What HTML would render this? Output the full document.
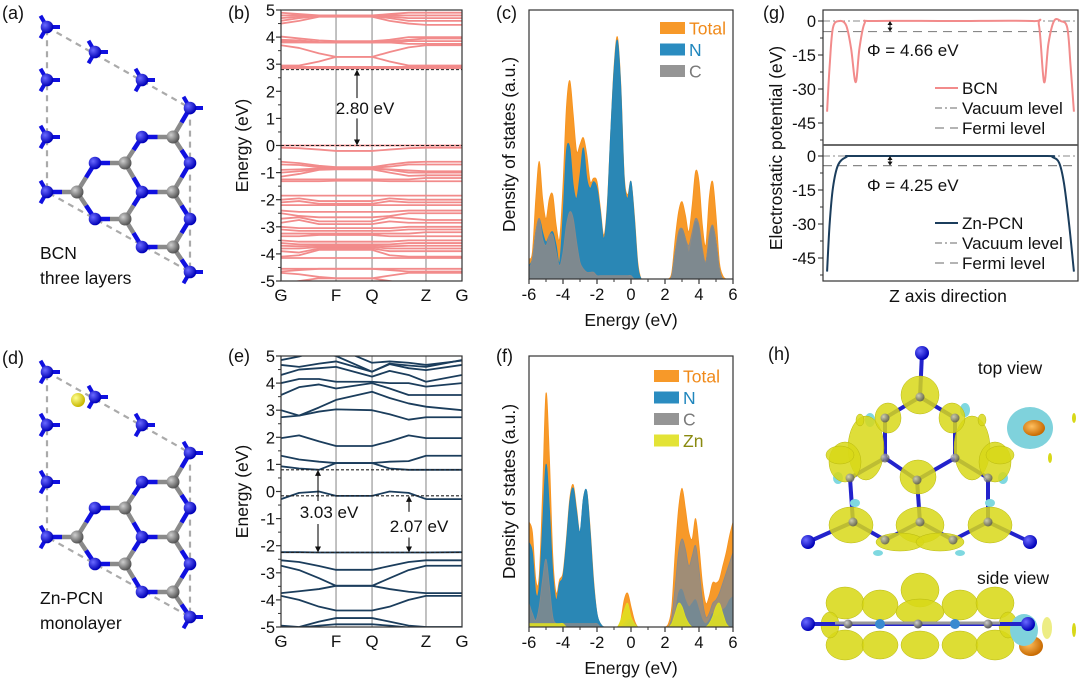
<!DOCTYPE html>
<html><head><meta charset="utf-8">
<style>
body{margin:0;background:#fff;}
svg{display:block;font-family:"Liberation Sans",Arial,sans-serif;}
</style></head>
<body>
<svg id="fig" width="1080" height="682" viewBox="0 0 1080 682" xmlns="http://www.w3.org/2000/svg">
<defs>
<radialGradient id="gN" cx="35%" cy="35%" r="65%"><stop offset="0" stop-color="#6a6aff"/><stop offset="1" stop-color="#0000b8"/></radialGradient>
<radialGradient id="gC" cx="35%" cy="35%" r="65%"><stop offset="0" stop-color="#cfcfcf"/><stop offset="1" stop-color="#555"/></radialGradient>
<radialGradient id="gZn" cx="35%" cy="35%" r="65%"><stop offset="0" stop-color="#ffff90"/><stop offset="1" stop-color="#c8b800"/></radialGradient>
<radialGradient id="gO" cx="40%" cy="40%" r="60%"><stop offset="0" stop-color="#ffc060"/><stop offset="1" stop-color="#c86a00"/></radialGradient>
<clipPath id="clipB"><rect x="281" y="10" width="181" height="271"/></clipPath>
<clipPath id="clipE"><rect x="281" y="356" width="181" height="271"/></clipPath>
<clipPath id="clipC"><rect x="529" y="10" width="204" height="269"/></clipPath>
<clipPath id="clipF"><rect x="529" y="356" width="204" height="271"/></clipPath>
</defs>
</svg>
<script>
// ---------- DATA ----------
const BAND_K = [0, 0.1, 0.21, 0.304, 0.503, 0.6, 0.705, 0.801, 1];
const KPOINT_LABELS = ['G', 'F', 'Q', 'Z', 'G'];
const KPOINT_POS = [0, 0.304, 0.503, 0.801, 1];
const ENERGY_TICKS = [5, 4, 3, 2, 1, 0, -1, -2, -3, -4, -5];
const BCN_BANDS = [
 [4.9,4.85,4.8,4.8,4.8,4.85,4.9,4.9,4.9],[4.8,4.8,4.8,4.8,4.8,4.8,4.8,4.8,4.8],
 [4.7,4.75,4.8,4.8,4.8,4.75,4.7,4.7,4.7],[4.6,4.7,4.78,4.78,4.78,4.7,4.6,4.6,4.6],
 [4.5,4.6,4.75,4.75,4.75,4.6,4.5,4.45,4.45],[4.02,3.95,3.88,3.85,3.85,3.9,4.0,4.0,4.0],
 [3.9,3.88,3.82,3.8,3.8,3.85,3.9,3.95,3.95],[3.85,3.82,3.8,3.8,3.8,3.8,3.85,3.85,3.85],
 [3.8,3.8,3.8,3.8,3.8,3.8,3.75,3.75,3.75],[3.7,3.6,3.4,3.27,3.27,3.45,3.62,3.7,3.7],
 [2.95,2.95,3.1,3.27,3.27,3.1,2.95,2.95,2.95],[2.9,2.9,2.9,2.9,2.9,2.9,2.9,2.9,2.9],
 [2.85,2.85,2.85,2.85,2.85,2.85,2.85,2.85,2.85],
 [0,0,0,0,0,0,0,0,0],[-0.08,-0.1,-0.15,-0.2,-0.2,-0.15,-0.1,-0.08,-0.08],
 [-0.6,-0.65,-0.75,-0.8,-0.8,-0.7,-0.62,-0.6,-0.6],[-0.7,-0.72,-0.8,-0.82,-0.82,-0.78,-0.7,-0.7,-0.7],
 [-0.9,-0.88,-0.85,-0.85,-0.85,-0.88,-0.92,-0.95,-0.95],[-1.0,-0.95,-0.88,-0.85,-0.85,-0.9,-1.0,-1.0,-1.0],
 [-1.15,-1.05,-0.9,-0.88,-0.88,-1.0,-1.12,-1.1,-1.1],[-1.25,-1.25,-1.25,-1.25,-1.25,-1.25,-1.25,-1.2,-1.2],
 [-1.32,-1.32,-1.32,-1.3,-1.3,-1.32,-1.32,-1.32,-1.32],[-1.85,-1.85,-1.85,-1.85,-1.85,-1.85,-1.85,-1.85,-1.85],
 [-2.0,-1.95,-2.05,-2.05,-2.05,-1.95,-2.0,-2.0,-2.0],[-2.1,-2.05,-2.15,-2.15,-2.15,-2.05,-2.1,-2.1,-2.1],
 [-2.2,-2.2,-2.2,-2.2,-2.2,-2.2,-2.2,-2.2,-2.2],[-2.4,-2.45,-2.45,-2.45,-2.45,-2.45,-2.4,-2.4,-2.4],
 [-2.5,-2.6,-2.65,-2.65,-2.65,-2.6,-2.5,-2.5,-2.5],[-2.7,-2.65,-2.8,-2.8,-2.8,-2.65,-2.7,-2.75,-2.75],
 [-2.85,-2.75,-2.9,-2.9,-2.9,-2.8,-2.85,-2.85,-2.85],[-3.0,-3.05,-3.05,-3.05,-3.05,-3.05,-3.0,-3.0,-3.0],
 [-3.1,-3.15,-3.15,-3.15,-3.15,-3.15,-3.1,-3.1,-3.1],[-3.25,-3.25,-3.25,-3.25,-3.25,-3.25,-3.25,-3.2,-3.2],
 [-3.35,-3.35,-3.3,-3.3,-3.3,-3.35,-3.35,-3.35,-3.35],[-3.5,-3.55,-3.55,-3.55,-3.55,-3.55,-3.5,-3.5,-3.5],
 [-3.6,-3.65,-3.65,-3.65,-3.65,-3.65,-3.6,-3.6,-3.6],[-3.7,-3.72,-3.7,-3.7,-3.7,-3.72,-3.7,-3.7,-3.7],
 [-3.8,-3.8,-3.75,-3.75,-3.75,-3.8,-3.8,-3.8,-3.8],[-3.9,-3.95,-3.8,-3.8,-3.8,-3.9,-3.9,-3.9,-3.9],
 [-4.1,-4.05,-3.85,-3.85,-3.85,-4.05,-4.1,-4.1,-4.1],[-4.15,-4.15,-4.15,-4.15,-4.15,-4.15,-4.15,-4.15,-4.15],
 [-4.55,-4.55,-4.55,-4.55,-4.55,-4.55,-4.55,-4.55,-4.55],[-4.65,-4.6,-4.55,-4.55,-4.55,-4.6,-4.65,-4.65,-4.65],
 [-4.7,-4.75,-4.85,-4.9,-4.9,-4.8,-4.7,-4.7,-4.7],[-5.1,-5.0,-4.9,-4.9,-4.9,-5.0,-5.1,-5.1,-5.1]
];
const ZNPCN_BANDS = [
 [4.85,4.98,5.2,5.3,4.75,4.8,4.75,4.67,4.83],
 [5.3,5.2,5.1,5.0,4.42,4.72,4.65,4.6,4.85],
 [4.67,4.6,4.72,4.8,4.42,4.7,4.55,4.48,4.67],
 [4.3,4.5,4.55,4.6,4.24,4.45,4.3,4.05,4.3],
 [4.0,4.15,4.15,4.05,4.05,4.0,4.0,3.87,4.0],
 [3.56,3.85,3.95,3.8,4.0,3.8,3.56,3.56,3.56],
 [3.0,2.8,3.1,3.38,3.68,3.45,3.25,3.13,3.0],
 [2.74,2.8,2.95,3.03,3.0,2.85,2.65,2.74,2.74],
 [1.97,2.07,1.85,1.68,1.68,1.85,2.07,1.97,1.97],
 [1.32,1.18,1.1,1.05,1.05,1.1,1.12,1.32,1.32],
 [0.93,0.85,0.8,1.05,1.05,0.85,0.8,0.8,0.8],
 [-0.28,-0.05,0.0,-0.16,-0.16,0.0,-0.05,-0.28,-0.28],
 [-2.24,-2.24,-2.25,-2.25,-2.25,-2.25,-2.25,-2.25,-2.24],
 [-2.54,-2.6,-2.75,-2.89,-2.89,-2.75,-2.6,-2.54,-2.54],
 [-2.74,-2.9,-3.2,-3.48,-3.48,-3.2,-2.9,-2.74,-2.74],
 [-3.75,-3.68,-3.6,-3.48,-3.48,-3.6,-3.7,-3.75,-3.75],
 [-3.85,-4.0,-4.25,-4.39,-4.39,-4.25,-4.0,-3.85,-3.85],
 [-4.95,-5.0,-4.8,-4.67,-4.67,-4.8,-4.95,-5.0,-5.0],
 [-5.05,-5.02,-4.95,-4.9,-4.9,-4.95,-5.02,-5.05,-5.05]
];
const DOS_ENERGY_TICKS = [-6, -4, -2, 0, 2, 4, 6];
const DOS_C_TOTAL = [6,8,24,35,24,18,24,25,16,12, 28,51,59,49,38,40,42,37,29,30, 29,21,13,22,43,63,72,58,31,25, 29,19,5, 0,0,0,0,0,0,0,0,0, 2,12,20,23,19,14,22,32,29,16, 10,24,29,19,5,1,0,0,0];
const DOS_C_N = [4,6,14,18,14,11,13,14,10,5, 19,38,39,28,24,31,39,30,27,29, 27,20,12,21,43,62,71,57,30,24, 29,18,4, 0,0,0,0,0,0,0,0,0, 1,8,13,15,12,8,12,17,15,8, 5,12,16,11,3,0,0,0,0];
const DOS_C_C = [3,6,14,18,12,10,13,13,8,4, 8,16,20,18,11,5,3,2,2,2, 1,1,1,1,1,1,1,1,1,1, 1,0,0, 0,0,0,0,0,0,0,0,0, 1,8,14,15,12,10,14,18,16,9, 5,13,16,11,3,0,0,0,0];
const DOS_F_TOTAL = [31,28,14,15,40,69,50,21,10,14, 16,26,38,42,35,28,38,40,29,14, 4,1,0,0,0,0,0,2,8,10, 6,2,0, 0,0,0,0,0,0,0,0,1, 6,22,35,41,35,28,26,32,24,13, 7,9,13,13,14,18,22,27,31];
const DOS_F_N = [25,22,10,12,30,48,35,16,8,13, 15,25,37,41,34,28,38,40,28,13, 4,1,0,0,0,0,0,0,0,1, 2,1,0, 0,0,0,0,0,0,0,0,0, 1,4,10,11,8,6,7,8,5,2, 1,2,4,3,4,5,6,8,9];
const DOS_F_C = [7,4,2,6,14,20,12,3,1,1, 1,1,1,1,1,1,1,1,1,1, 1,0,0,0,0,0,0,0,1,2, 2,1,0, 0,0,0,0,0,0,0,0,0, 3,12,22,26,23,18,21,24,17,8, 3,4,7,8,10,13,16,19,22];
const DOS_F_ZN = [1,1,1,1,1,1,1,1,1,1, 1,0,0,0,0,0,0,0,0,0, 0,0,0,0,0,0,0,2,5,7, 3,1,0, 0,0,0,0,0,0,0,0,0, 1,4,7,6,3,1,0,0,0,0, 0,1,3,6,7,4,1,0,0];
const POT_TICKS = [0, -15, -30, -45];
const POT_Z_BCN = [0.016,0.026,0.039,0.065,0.091,0.11,0.128,0.143,0.163,0.196,0.5,0.82,0.847,0.867,0.884,0.906,0.932,0.958,0.971,0.984];
const POT_BCN = [-40,-20,-3,0,-2,-12,-27,-12,-1,0,0,0,-2,-27,-10,0,0,-3,-20,-40];
const POT_Z_ZN = [0.016,0.026,0.039,0.059,0.091,0.13,0.5,0.87,0.9,0.926,0.945,0.965,0.984];
const POT_ZN = [-51,-30,-14,-4,-0.5,0,0,0,-0.5,-3,-12,-30,-51];
const FERMI_BCN = -4.66;
const FERMI_ZN = -4.25;

// ---------- HELPERS ----------
const NS = 'http://www.w3.org/2000/svg';
const svg = document.getElementById('fig');
const TICK_FS = 16.5, TITLE_FS = 17.5;
function mk(tag, attrs, parent) {
  const e = document.createElementNS(NS, tag);
  for (const k in attrs) e.setAttribute(k, attrs[k]);
  (parent || svg).appendChild(e);
  return e;
}
function txt(x, y, s, size, anchor, fill, parent) {
  const t = mk('text', {x: x, y: y, 'font-size': size, 'text-anchor': anchor || 'start', fill: fill || '#111'}, parent);
  t.textContent = s;
  return t;
}
function smooth(pts) {
  let d = 'M' + pts[0][0].toFixed(2) + ',' + pts[0][1].toFixed(2);
  for (let i = 0; i < pts.length - 1; i++) {
    const p0 = pts[i - 1] || pts[i], p1 = pts[i], p2 = pts[i + 1], p3 = pts[i + 2] || p2;
    const c1x = p1[0] + (p2[0] - p0[0]) / 6, c1y = p1[1] + (p2[1] - p0[1]) / 6;
    const c2x = p2[0] - (p3[0] - p1[0]) / 6, c2y = p2[1] - (p3[1] - p1[1]) / 6;
    d += 'C' + c1x.toFixed(2) + ',' + c1y.toFixed(2) + ' ' + c2x.toFixed(2) + ',' + c2y.toFixed(2) + ' ' + p2[0].toFixed(2) + ',' + p2[1].toFixed(2);
  }
  return d;
}
const ENERGY_GRID = [];
for (let i = 0; i <= 60; i++) ENERGY_GRID.push(-6 + i * 0.2);

// ---------- PANEL LABELS ----------
[['(a)',2,19],['(b)',228,19],['(c)',496,19],['(g)',763,19],['(d)',2,364],['(e)',228,362],['(f)',496,362],['(h)',768,360]].forEach(function(p){
  const t = txt(p[1], p[2], p[0], 18);
  
  
});

// ---------- STRUCTURES (a)/(d) ----------
function drawStructure(dy, withZn, name) {
  const g = mk('g', {});
  
  
  const N = [[47,27],[95,52],[142,80],[190,108],[47,80],[47,137],[47,192],[190,272],[95,163],[95,219],[142,137],[142,192],[142,247],[190,163],[190,219]];
  const C = [[77,192],[125,163],[125,219],[173,137],[173,192],[173,247]];
  const stubs = {0:[240,120,0],1:[240,120,0],2:[240,120,0],3:[240,0],4:[240,120,0],5:[240,120,0],6:[240,120],7:[0,120]};
  const cell = mk('polyline', {points: '47,'+(27+dy)+' 190,'+(108+dy)+' 190,'+(272+dy)+' 47,'+(192+dy)+' 47,'+(27+dy), fill:'none', stroke:'#aaa', 'stroke-width':2.2, 'stroke-dasharray':'6,5'}, g);
  
  
  for (const k in stubs) {
    stubs[k].forEach(function(a){
      const p = N[k], r = a * Math.PI / 180;
      mk('line', {x1:p[0], y1:p[1]+dy, x2:p[0]+13*Math.cos(r), y2:p[1]+dy+13*Math.sin(r), stroke:'#1010e0', 'stroke-width':4}, g);
    });
  }
  C.forEach(function(c){
    N.forEach(function(n){
      const d = Math.hypot(c[0]-n[0], c[1]-n[1]);
      if (d < 37) {
        const mx = (c[0]+n[0])/2, my = (c[1]+n[1])/2;
        mk('line', {x1:c[0], y1:c[1]+dy, x2:mx, y2:my+dy, stroke:'#8a8a8a', 'stroke-width':4.5}, g);
        mk('line', {x1:mx, y1:my+dy, x2:n[0], y2:n[1]+dy, stroke:'#1010e0', 'stroke-width':4.5}, g);
      }
    });
  });
  N.forEach(function(p){ mk('circle', {cx:p[0], cy:p[1]+dy, r:6.3, fill:'url(#gN)'}, g); });
  C.forEach(function(p){ mk('circle', {cx:p[0], cy:p[1]+dy, r:6.5, fill:'url(#gC)'}, g); });
  if (withZn) {
    const zn = mk('circle', {cx:78, cy:400, r:7, fill:'url(#gZn)'}, g);
    
    
  }
}
drawStructure(0, false, 'bcn-structure');
drawStructure(345, true, 'znpcn-structure');
[['BCN',40,259,'bcn-caption'],['three layers',40,284,'bcn-caption-2'],['Zn-PCN',40,604,'znpcn-caption'],['monolayer',40,629,'znpcn-caption-2']].forEach(function(c){
  const t = txt(c[1], c[2], c[0], 17.5);
  
  
});

// ---------- BAND PANELS ----------
function bandPanel(x0, x1, y0, y1, bands, color, clipId, name) {
  const g = mk('g', {});
  
  
  const X = function(k){ return x0 + k * (x1 - x0); };
  const Y = function(e){ return y0 + (5 - e) / 10 * (y1 - y0); };
  KPOINT_POS.slice(1, 4).forEach(function(k){
    const l = mk('line', {x1:X(k), y1:y0, x2:X(k), y2:y1, stroke:'#a0a0a0', 'stroke-width':1.3}, g);
    
    
  });
  const bg = mk('g', {'clip-path': 'url(#' + clipId + ')'}, g);
  bands.forEach(function(b, i){
    const pts = b.map(function(e, j){ return X(BAND_K[j]).toFixed(2) + ',' + Y(e).toFixed(2); }).join(' ');
    const pl = mk('polyline', {points: pts, fill:'none', stroke:color, 'stroke-width':1.8, 'stroke-linejoin':'round'}, bg);
    
    
  });
  const fr = mk('rect', {x:x0, y:y0, width:x1-x0, height:y1-y0, fill:'none', stroke:'#333', 'stroke-width':1.2}, g);
  
  
  ENERGY_TICKS.forEach(function(e){
    mk('line', {x1:x0-5, y1:Y(e), x2:x0, y2:Y(e), stroke:'#333', 'stroke-width':1.2}, g);
    mk('line', {x1:x0-3, y1:Y(e-0.5), x2:x0, y2:Y(e-0.5), stroke:'#333', 'stroke-width':1}, g);
    const t = txt(x0-6, Y(e)+6, String(e), TICK_FS, 'end', '#111', g);
    
    
  });
  KPOINT_LABELS.forEach(function(s, i){
    const t = txt(X(KPOINT_POS[i]), y1+20, s, TICK_FS+0.5, 'middle', '#111', g);
    
    
  });
  const yt = txt(0, 0, 'Energy (eV)', TITLE_FS, 'middle', '#111', g);
  yt.setAttribute('transform', 'translate(248,' + ((y0+y1)/2) + ') rotate(-90)');
  
  
  return {g:g, X:X, Y:Y};
}
function dashH(p, e, name) {
  const l = mk('line', {x1:281, y1:p.Y(e), x2:462, y2:p.Y(e), stroke:'#222', 'stroke-width':1.1, 'stroke-dasharray':'3,2'}, p.g);
  
  
}
function arrow(p, x, eFrom, eTo, name) {
  const ya = p.Y(eFrom), yb = p.Y(eTo), dir = yb > ya ? 1 : -1;
  const l = mk('line', {x1:x, y1:ya, x2:x, y2:yb - dir*5, stroke:'#111', 'stroke-width':1.1}, p.g);
  
  
  mk('polygon', {points: (x-3)+','+(yb-dir*6)+' '+(x+3)+','+(yb-dir*6)+' '+x+','+yb, fill:'#111'}, p.g);
}
const pb = bandPanel(281, 462, 10, 281, BCN_BANDS, '#f28b8b', 'clipB', 'bcn-band-structure');
dashH(pb, 2.8, 'cbm-line');
dashH(pb, 0, 'vbm-line');
arrow(pb, 357, 1.75, 2.8, 'gap-arrow-up');
arrow(pb, 357, 1.0, 0, 'gap-arrow-down');
let t1 = txt(365, 114, '2.80 eV', 17, 'middle', '#111', pb.g);



const pe = bandPanel(281, 462, 356, 627, ZNPCN_BANDS, '#1b3d5c', 'clipE', 'znpcn-band-structure');
dashH(pe, 0.8, 'cbm-line');
dashH(pe, -0.16, 'zn-level-line');
dashH(pe, -2.25, 'vbm-line');
arrow(pe, 318, -0.35, 0.8, 'gap-arrow-up');
arrow(pe, 318, -1.2, -2.25, 'gap-arrow-down');
arrow(pe, 409, -0.75, -0.16, 'gap2-arrow-up');
arrow(pe, 409, -1.7, -2.25, 'gap2-arrow-down');
t1 = txt(329, 518, '3.03 eV', 17, 'middle', '#111', pe.g);


t1 = txt(419, 532, '2.07 eV', 17, 'middle', '#111', pe.g);



// ---------- DOS PANELS ----------
function dosPanel(y0, y1, series, clipId, name, legendY) {
  const x0 = 529, x1 = 733;
  const g = mk('g', {});
  
  
  const X = function(e){ return x0 + (e + 6) / 12 * (x1 - x0); };
  const Y = function(v){ return y1 - v / 80 * (y1 - y0); };
  const cg = mk('g', {'clip-path':'url(#' + clipId + ')'}, g);
  series.forEach(function(s){
    const pts = s.values.map(function(v, i){ return [X(ENERGY_GRID[i]), Y(v)]; });
    const d = smooth(pts) + 'L' + X(6) + ',' + Y(0) + 'L' + X(-6) + ',' + Y(0) + 'Z';
    const p = mk('path', {d:d, fill:s.color, 'fill-opacity':s.op, stroke:s.color, 'stroke-width':0.8}, cg);
    
    
  });
  const fr = mk('rect', {x:x0, y:y0, width:x1-x0, height:y1-y0, fill:'none', stroke:'#333', 'stroke-width':1.2}, g);
  
  
  DOS_ENERGY_TICKS.forEach(function(e){
    mk('line', {x1:X(e), y1:y1, x2:X(e), y2:y1+5, stroke:'#333', 'stroke-width':1.2}, g);
    if (e < 6) mk('line', {x1:X(e+1), y1:y1, x2:X(e+1), y2:y1+3, stroke:'#333', 'stroke-width':1}, g);
    const t = txt(X(e), y1+21, String(e), TICK_FS, 'middle', '#111', g);
    
    
  });
  const xt = txt(631, y1+47, 'Energy (eV)', TITLE_FS, 'middle', '#111', g);
  
  
  const yt = txt(0, 0, 'Density of states (a.u.)', TITLE_FS, 'middle', '#111', g);
  yt.setAttribute('transform', 'translate(515,' + ((y0+y1)/2) + ') rotate(-90)');
  
  
  series.forEach(function(s, i){
    const ly = legendY + i * 21.5;
    const r = mk('rect', {x:legendY > 300 ? 654 : 660, y:ly-6, width:25, height:12, fill:s.color, 'fill-opacity':Math.max(s.op,0.9)}, g);
    
    
    const t = txt(legendY > 300 ? 683 : 689, ly+6.5, s.label, 17.5, 'start', s.tcolor, g);
    
    
  });
}
dosPanel(10, 279, [
  {key:'total', label:'Total', values:DOS_C_TOTAL, color:'#f7931e', op:0.95, tcolor:'#f08a1a'},
  {key:'n', label:'N', values:DOS_C_N, color:'#1f86bd', op:0.95, tcolor:'#1f86bd'},
  {key:'c', label:'C', values:DOS_C_C, color:'#8a8a8a', op:0.88, tcolor:'#7a7a7a'}
], 'clipC', 'bcn-dos', 28);
dosPanel(356, 627, [
  {key:'total', label:'Total', values:DOS_F_TOTAL, color:'#f7931e', op:0.95, tcolor:'#f08a1a'},
  {key:'n', label:'N', values:DOS_F_N, color:'#1f86bd', op:0.95, tcolor:'#1f86bd'},
  {key:'c', label:'C', values:DOS_F_C, color:'#8a8a8a', op:0.8, tcolor:'#7a7a7a'},
  {key:'zn', label:'Zn', values:DOS_F_ZN, color:'#e0e020', op:0.9, tcolor:'#8a8a10'}
], 'clipF', 'znpcn-dos', 376);

// ---------- POTENTIAL PANEL (g) ----------
(function(){
  const x0 = 823, x1 = 1078;
  const g = mk('g', {});
  
  
  const X = function(z){ return x0 + z * (x1 - x0); };
  const sub = [
    {zero:21, top:10, bot:145, zs:POT_Z_BCN, vs:POT_BCN, fermi:FERMI_BCN, color:'#f28b8b', label:'BCN', phi:'Φ = 4.66 eV', key:'bcn', ly:88},
    {zero:156, top:145, bot:281, zs:POT_Z_ZN, vs:POT_ZN, fermi:FERMI_ZN, color:'#1b3d5c', label:'Zn-PCN', phi:'Φ = 4.25 eV', key:'znpcn', ly:223}
  ];
  const k = 34 / 15;
  sub.forEach(function(s){
    const Y = function(v){ return s.zero - v * k; };
    const vac = mk('line', {x1:x0, y1:Y(0), x2:x1, y2:Y(0), stroke:'#888', 'stroke-width':1.1, 'stroke-dasharray':'7,3,2,3'}, g);
    
    
    const fe = mk('line', {x1:x0, y1:Y(s.fermi), x2:x1, y2:Y(s.fermi), stroke:'#888', 'stroke-width':1.2, 'stroke-dasharray':'9,6'}, g);
    
    
    const pts = s.zs.map(function(z, i){ return [X(z), Y(s.vs[i])]; });
    const p = mk('path', {d:smooth(pts), fill:'none', stroke:s.color, 'stroke-width':2}, g);
    
    
    const ax = 890;
    mk('line', {x1:ax, y1:Y(0)+1, x2:ax, y2:Y(s.fermi)-1, stroke:'#111', 'stroke-width':1}, g);
    mk('polygon', {points:(ax-2.5)+','+(Y(0)+4)+' '+(ax+2.5)+','+(Y(0)+4)+' '+ax+','+Y(0), fill:'#111'}, g);
    mk('polygon', {points:(ax-2.5)+','+(Y(s.fermi)-4)+' '+(ax+2.5)+','+(Y(s.fermi)-4)+' '+ax+','+Y(s.fermi), fill:'#111'}, g);
    const ph = txt(867, s.zero + 35, s.phi, 17, 'start', '#111', g);
    
    
    POT_TICKS.forEach(function(v){
      mk('line', {x1:x0-5, y1:Y(v), x2:x0, y2:Y(v), stroke:'#333', 'stroke-width':1.1}, g);
      mk('line', {x1:x0-3, y1:Y(v-7.5), x2:x0, y2:Y(v-7.5), stroke:'#333', 'stroke-width':1}, g);
      const t = txt(x0-7, Y(v)+6, String(v), TICK_FS, 'end', '#111', g);
      
      
    });
    const entries = [[s.label, s.color, null], ['Vacuum level', '#888', '7,3,2,3'], ['Fermi level', '#888', '9,6']];
    entries.forEach(function(en, i){
      const ly = s.ly + i * 20;
      const l = mk('line', {x1:935, y1:ly, x2:958, y2:ly, stroke:en[1], 'stroke-width':en[2] ? 1.2 : 2, 'stroke-dasharray':en[2] || 'none'}, g);
      
      
      const t = txt(962, ly+6, en[0], 17, 'start', '#111', g);
      
      
    });
  });
  const fr = mk('rect', {x:x0, y:10, width:x1-x0, height:271, fill:'none', stroke:'#333', 'stroke-width':1.2}, g);
  
  
  const dv = mk('line', {x1:x0, y1:145, x2:x1, y2:145, stroke:'#555', 'stroke-width':1.8}, g);
  
  
  const xt = txt(948, 302, 'Z axis direction', TITLE_FS, 'middle', '#111', g);
  
  
  const yt = txt(0, 0, 'Electrostatic potential (eV)', TITLE_FS, 'middle', '#111', g);
  yt.setAttribute('transform', 'translate(782,148) rotate(-90)');
  
  
})();

// ---------- CHARGE DENSITY (h) ----------
(function(){
  const g = mk('g', {});
  
  
  const bonds = [[922,353,920,397],[808,542,853,522],[1030,542,988,522],[920,397,885,418],[920,397,955,418],[885,418,885,458],[955,418,955,458],[885,458,917,480],[955,458,917,480],[917,480,920,522],[885,458,850,478],[955,458,988,478],[850,478,853,522],[988,478,988,522],[853,522,885,540],[988,522,953,540],[885,540,920,522],[953,540,920,522]];
  bonds.forEach(function(b){ mk('line', {x1:b[0], y1:b[1], x2:b[2], y2:b[3], stroke:'#2222cc', 'stroke-width':4}, g); });
  const cyan = [[870,420,5,7],[965,410,5,7],[838,478,5,6],[1003,478,5,6],[855,503,5,4],[990,503,5,4],[878,553,5,3],[960,553,5,3]];
  cyan.forEach(function(c){ mk('ellipse', {cx:c[0], cy:c[1], rx:c[2], ry:c[3], fill:'#7fd8e0'}, g); });
  const yel = [[920,395,19,19],[918,477,18,17],[920,525,24,18],[851,525,22,18],[990,525,22,18],[866,448,18,32],[972,448,18,32],[888,418,13,15],[952,418,13,15],[845,462,16,20],[995,462,16,20],[900,542,24,9],[940,542,24,9],[840,455,14,9],[1000,455,14,9],[860,420,4,6],[982,420,4,6]];
  yel.forEach(function(c){ mk('ellipse', {cx:c[0], cy:c[1], rx:c[2], ry:c[3], fill:'#d8d818', 'fill-opacity':0.85, stroke:'#b8b810', 'stroke-width':0.5}, g); });
  [[922,353],[808,542],[1030,542]].forEach(function(p){ mk('circle', {cx:p[0], cy:p[1], r:7, fill:'url(#gN)'}, g); });
  [[920,397],[885,418],[955,418],[885,458],[955,458],[917,480],[850,478],[988,478],[853,522],[988,522],[920,522],[885,540],[953,540]].forEach(function(p){ mk('circle', {cx:p[0], cy:p[1], r:4.5, fill:'url(#gC)', 'fill-opacity':0.8}, g); });
  const cs = mk('ellipse', {cx:1030, cy:428, rx:23, ry:21, fill:'#7fd2dc'}, g);
  
  
  mk('ellipse', {cx:1034, cy:428, rx:11, ry:8, fill:'url(#gO)'}, g);
  mk('ellipse', {cx:1074, cy:418, rx:2, ry:5, fill:'#d8d818'}, g);
  mk('ellipse', {cx:1050, cy:458, rx:2, ry:5, fill:'#d8d818'}, g);
  [[845,603,19,16],[880,605,18,15],[920,590,19,17],[960,605,18,15],[995,603,19,16],[845,645,19,15],[880,645,18,14],[920,645,19,14],[960,645,18,14],[995,645,19,15],[920,612,24,13],[830,625,9,13],[1008,625,9,13]].forEach(function(c){
    mk('ellipse', {cx:c[0], cy:c[1], rx:c[2], ry:c[3], fill:'#d8d818', 'fill-opacity':0.88, stroke:'#b8b810', 'stroke-width':0.5}, g);
  });
  mk('ellipse', {cx:1031, cy:646, rx:12, ry:10, fill:'url(#gO)'}, g);
  mk('ellipse', {cx:1024, cy:630, rx:14, ry:16, fill:'#7fd2dc'}, g);
  mk('ellipse', {cx:1047, cy:628, rx:5, ry:11, fill:'#e6e650', 'fill-opacity':0.7}, g);
  mk('ellipse', {cx:1074, cy:630, rx:2, ry:7, fill:'#d8d818'}, g);
  mk('line', {x1:808, y1:624, x2:1028, y2:624, stroke:'#2222cc', 'stroke-width':4}, g);
  mk('line', {x1:835, y1:623, x2:1000, y2:623, stroke:'#999', 'stroke-width':3}, g);
  [[808,624],[1028,624]].forEach(function(p){ mk('circle', {cx:p[0], cy:p[1], r:7, fill:'url(#gN)'}, g); });
  [[880,624],[955,624]].forEach(function(p){ mk('circle', {cx:p[0], cy:p[1], r:5, fill:'#3a8ad0'}, g); });
  [[848,624],[918,624],[988,624]].forEach(function(p){ mk('circle', {cx:p[0], cy:p[1], r:4.5, fill:'url(#gC)'}, g); });
  let t = txt(1010, 374, 'top view', 17.5, 'middle', '#111', g);
  
  
  t = txt(1013, 584, 'side view', 17.5, 'middle', '#111', g);
  
  
})();
</script>
</body></html>
